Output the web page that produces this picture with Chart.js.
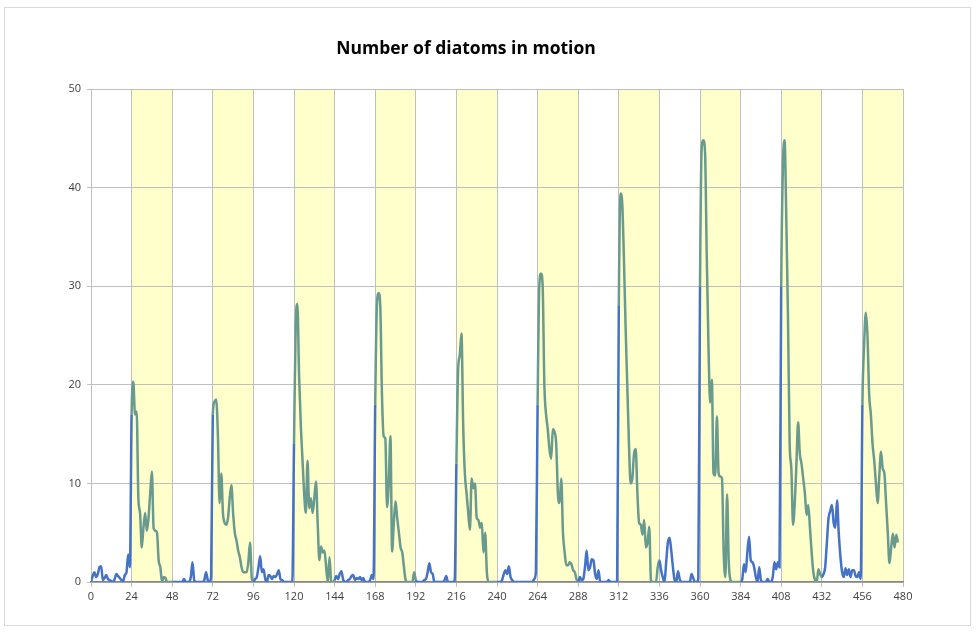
<!DOCTYPE html>
<html>
<head>
<meta charset="utf-8">
<script src="https://cdn.jsdelivr.net/npm/chart.js@4/dist/chart.umd.min.js"></script>
<style>
  body { margin: 0; background: #fff; }
  #frame { position: absolute; left: 4px; top: 7px; width: 965px; height: 617px; border: 1px solid #d9d9d9; }
  #wrap { position: absolute; left: 29px; top: 0; width: 903px; height: 632px; }
</style>
</head>
<body>
<div id="frame"></div>
<div id="wrap"><canvas id="diatomChart"></canvas></div>
<script>
// hourly counts, one array per 24 h
var day00 = [0, 0.6, 1, 0.5, 0.8, 1.5, 1.6, 0.2, 0.4, 0.7, 0.3, 0.2, 0.1, 0, 0.3, 0.8, 0.6, 0.4, 0.2, 0.1, 0.7, 1.0, 2.8, 1.5];
var day01 = [17, 20.3, 17, 17.3, 8.5, 7, 3.5, 5.5, 7, 5.2, 6.5, 9, 11.2, 5.5, 5.2, 5, 2.2, 1.5, 0, 0.5, 0.4, 0, 0, 0];
var day02 = [0, 0, 0, 0, 0, 0, 0, 0.3, 0, 0, 0, 0.5, 2, 0.2, 0, 0, 0, 0, 0, 0.2, 1, 0.2, 0, 0.5];
var day03 = [17, 18.3, 18.5, 15, 8, 11, 7, 6, 5.8, 6.5, 8.5, 9.8, 7, 5, 4.2, 3.2, 2.5, 1.5, 1, 1, 1, 2, 4, 0.5];
var day04 = [0, 0.3, 0.5, 1.5, 2.6, 1, 1.3, 0.3, 0, 0.7, 0.6, 0.3, 0.6, 0.5, 0.8, 1.2, 0.3, 0.2, 0, 0, 0, 0, 0, 0];
var day05 = [14, 26, 28.2, 21, 16, 12.5, 9, 7, 12.3, 7.5, 8.5, 7, 8.5, 10.2, 6, 2.2, 3.6, 3, 3.2, 1.5, 0, 2.5, 0, 0];
var day06 = [0.2, 0.6, 0.3, 0.8, 1.1, 0.3, 0, 0, 0.2, 0.3, 0.6, 0.7, 0.2, 0.4, 0.3, 0.5, 0.2, 0.4, 0, 0, 0, 0.2, 0.7, 0.3];
var day07 = [18, 28, 29.3, 28, 19, 14.8, 14.5, 7.6, 10, 14.8, 3.1, 6, 8.2, 6.5, 5, 3.5, 3, 1.5, 0.2, 0, 0, 0, 0, 1];
var day08 = [0.2, 0, 0, 0, 0, 0.2, 0.3, 1, 1.9, 1, 0.8, 0, 0, 0, 0, 0, 0, 0.2, 0.6, 0, 0, 0, 0, 0.2];
var day09 = [12, 21.5, 23, 25.2, 16, 11, 9, 7, 5.3, 10.5, 9.5, 10, 6.5, 6.3, 5.5, 6, 3, 5, 1, 0, 0, 0, 0, 0];
var day10 = [0, 0, 0, 0.2, 0.8, 1.2, 0.8, 1.6, 0.5, 0.2, 0, 0, 0, 0, 0, 0, 0, 0, 0, 0, 0, 0, 0.3, 1];
var day11 = [18, 30, 31.3, 30, 20, 17, 15.5, 13.5, 12.5, 15.5, 15.2, 14, 9, 8, 10.5, 5, 3, 1.7, 1.7, 2, 1.8, 1.2, 1, 0.3];
var day12 = [0, 0.5, 0.2, 0.3, 1.5, 3.2, 1.2, 1.5, 2.3, 2.2, 0.8, 0.3, 1.2, 0, 0, 0, 0, 0, 0.2, 0, 0, 0, 0, 0];
var day13 = [28, 39.4, 38.5, 33, 26, 20, 14, 10, 10.5, 13, 13.5, 9, 6, 5.8, 4.8, 6.3, 3.5, 4, 5.6, 0.2, 0, 0, 0, 1.5];
var day14 = [2.2, 1.2, 0.5, 0, 2, 4, 4.5, 3.2, 1.5, 0.2, 0, 1.1, 0.3, 0, 0, 0, 0, 0, 0, 0.8, 0.4, 0, 0, 0.3];
var day15 = [30, 44, 44.8, 43.5, 33, 24, 18.2, 20.5, 11, 10.8, 16.8, 11, 10.7, 10.5, 3, 0.5, 8.9, 2, 0.2, 0, 0, 0, 0, 0];
var day16 = [0, 0.3, 1.8, 1, 3, 4.6, 2.2, 2, 1.5, 0.5, 0, 1.5, 0.2, 0, 0, 0, 0.3, 0, 0, 0.5, 2, 1.3, 2, 1.5];
var day17 = [30, 42, 44.8, 37, 27, 14, 11.5, 5.8, 8, 12, 16.2, 13, 12, 10.5, 9, 6.8, 7.8, 5.5, 3, 1, 0.2, 0, 1.3, 0.8];
var day18 = [0.5, 0.8, 1.5, 4, 6.5, 7.2, 7.8, 6, 5.5, 8.3, 5, 2.6, 1, 0.5, 1.4, 0.7, 1.3, 0.5, 1.2, 1.2, 0.6, 0.5, 1, 0.3];
var day19 = [18, 24, 27.3, 25, 19, 17, 14, 12.3, 10, 8, 10.8, 13.2, 11.5, 11, 8, 5, 1.9, 3.5, 4.9, 3.5, 4.8, 4];

var days = [day00, day01, day02, day03, day04, day05, day06, day07, day08, day09,
            day10, day11, day12, day13, day14, day15, day16, day17, day18, day19];

var hoursPerDay = 24;
var xMax = 480;
var yMax = 50;

var points = [];
for (var d = 0; d < days.length; d++) {
	for (var i = 0; i < days[d].length; i++) {
		points.push({x: d * hoursPerDay + i, y: days[d][i]});
	}
}

function isLight(x) {
	return Math.floor(x / hoursPerDay) % 2 == 1;
}

var bandPlugin = {
	id: 'bands',
	beforeDraw: function(chart) {
		var ctx = chart.ctx;
		var area = chart.chartArea;
		var xs = chart.scales.x;
		ctx.save();
		ctx.fillStyle = '#ffffcc';
		for (var s = hoursPerDay; s < xMax; s += 2 * hoursPerDay) {
			var l = xs.getPixelForValue(s);
			var r = xs.getPixelForValue(s + hoursPerDay);
			ctx.fillRect(l, area.top, r - l, area.bottom - area.top);
		}
		ctx.restore();
	}
};

var ctx = document.getElementById('diatomChart');
var diatomChart = new Chart(ctx, {
	type: 'line',
	data: {
		datasets: [{
			data: points,
			borderColor: '#4472c4',
			borderWidth: 2.5,
			pointRadius: 0,
			cubicInterpolationMode: 'monotone',
			segment: {
				borderColor: function(c) {
					var mid = (c.p0.parsed.x + c.p1.parsed.x) / 2;
					return isLight(mid) ? '#699a8e' : '#4472c4';
				}
			}
		}]
	},
	options: {
		responsive: true,
		maintainAspectRatio: false,
		animation: false,
		layout: { padding: { left: 0, right: 29, top: 0, bottom: 0 } },
		plugins: {
			legend: { display: false },
			tooltip: { enabled: false },
			title: {
				display: true,
				text: 'Number of diatoms in motion',
				color: '#000',
				font: { family: 'Open Sans', size: 17.5, weight: 'bold' },
				padding: { top: 39, bottom: 29 }
			}
		},
		scales: {
			x: {
				type: 'linear',
				min: 0,
				max: xMax,
				afterFit: function(scale) { scale.height = 50; },
				ticks: {
					stepSize: hoursPerDay,
					color: '#404040',
					font: { family: 'Open Sans', size: 11 },
					padding: 3,
					maxRotation: 0
				},
				grid: { color: '#bfbfbf', tickLength: 5, lineWidth: 1 },
				border: { color: '#868686', width: 1.5 }
			},
			y: {
				min: 0,
				max: yMax,
				afterFit: function(scale) { scale.width = 62; },
				ticks: {
					stepSize: 10,
					color: '#404040',
					font: { family: 'Open Sans', size: 11 },
					padding: 6
				},
				grid: { color: '#bfbfbf', tickLength: 4, lineWidth: 1 },
				border: { color: '#bfbfbf' }
			}
		}
	},
	plugins: [bandPlugin]
});
</script>
</body>
</html>
